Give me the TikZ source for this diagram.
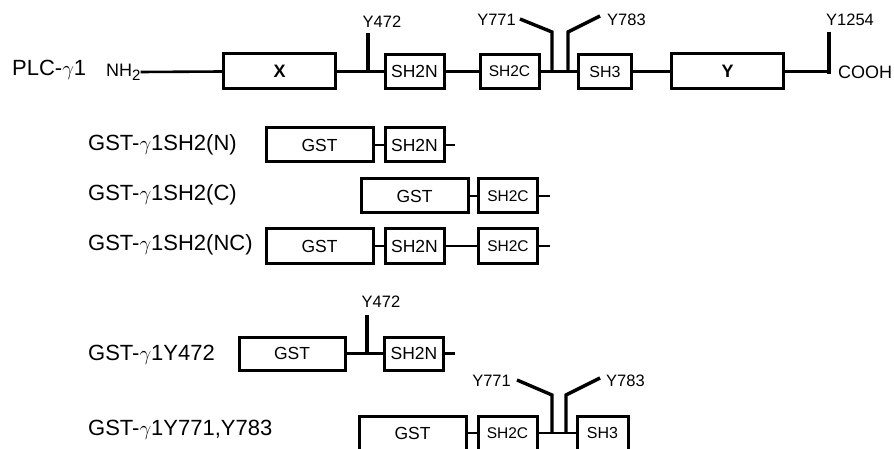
\documentclass[tikz,border=0pt]{standalone}
\usepackage{fontspec}
\setmainfont{Liberation Sans}
\begin{document}
\begin{tikzpicture}[x=1pt,y=-1pt,
  dom/.style={draw, line width=3pt, inner sep=0pt, anchor=center, minimum height=34pt},
  gst/.style={dom, minimum width=107pt, font=\fontsize{17.5}{18}\selectfont},
  sn/.style={dom, minimum width=59pt, font=\fontsize{17.5}{18}\selectfont},
  sc/.style={dom, minimum width=59pt, font=\fontsize{15.5}{16}\selectfont},
  sthree/.style={dom, minimum width=53pt, font=\fontsize{16}{16}\selectfont},
  big/.style={dom, minimum width=112pt, minimum height=35pt, font=\fontsize{18}{18}\selectfont\bfseries},
  lnk/.style={line width=2.6pt},
  tk/.style={line width=3.4pt, line join=miter},
  rowlab/.style={font=\fontsize{22}{24}\selectfont, anchor=west, inner sep=0pt},
  ylab/.style={font=\fontsize{16.5}{18}\selectfont, inner sep=0pt},
  endlab/.style={font=\fontsize{18}{20}\selectfont, inner sep=0pt}]
\useasboundingbox (0,0) rectangle (894,449);

% ---------- Row 1: PLC-gamma1 ----------
\node[rowlab] (plc) at (12,70) {PLC-$\gamma$1};
\node[endlab, anchor=west] (nh2) at (106,72) {NH\raisebox{-4pt}{\fontsize{15}{15}\selectfont 2}};
\node[big] (X) at (279.5,71.5) {X};
\node[sn] (r1n) at (414.5,71.5) {SH2N};
\node[sc] (r1c) at (509.5,71.5) {SH2C};
\node[sthree] (r1s3) at (605,71.5) {SH3};
\node[big] (Y) at (727.5,71.5) {Y};
\node[endlab, anchor=west] (cooh) at (838,72) {COOH};
\coordinate (r1end) at (831,71.5);
\draw[lnk] (nh2.east) -- (X.west);
\draw[lnk] (X.east) -- (r1n.west);
\draw[lnk] (r1n.east) -- (r1c.west);
\draw[lnk] (r1c.east) -- (r1s3.west);
\draw[lnk] (r1s3.east) -- (Y.west);
\draw[lnk] (Y.east) -- (r1end);
% ticks
\coordinate (a472) at (368,71.5); \coordinate (b472) at (368,33);
\draw[tk] (a472) -- (b472);
\node[ylab] (l472) at (382,22) {Y472};
\coordinate (a771) at (552,71.5); \coordinate (b771) at (552,32); \coordinate (c771) at (520,19);
\draw[tk] (a771) -- (b771) -- (c771);
\node[ylab, anchor=east] (l771) at (516,20) {Y771};
\coordinate (a783) at (568,71.5); \coordinate (b783) at (568,32); \coordinate (c783) at (600,16);
\draw[tk] (a783) -- (b783) -- (c783);
\node[ylab, anchor=west] (l783) at (607,20) {Y783};
\coordinate (a1254) at (829,74); \coordinate (b1254) at (829,32);
\draw[tk] (a1254) -- (b1254);
\node[ylab, anchor=west] (l1254) at (826,20) {Y1254};

% ---------- Row 2 ----------
\node[rowlab] (lab2) at (88,145) {GST-$\gamma$1SH2(N)};
\node[gst] (g2) at (319.5,145) {GST};
\node[sn] (n2) at (414.5,145) {SH2N};
\coordinate (e2) at (455,145);
\draw[lnk] (g2.east) -- (n2.west);
\draw[lnk] (n2.east) -- (e2);

% ---------- Row 3 ----------
\node[rowlab] (lab3) at (88,195) {GST-$\gamma$1SH2(C)};
\node[gst] (g3) at (414.5,196) {GST};
\node[sc] (c3) at (508,196) {SH2C};
\coordinate (e3) at (550,196);
\draw[lnk] (g3.east) -- (c3.west);
\draw[lnk] (c3.east) -- (e3);

% ---------- Row 4 ----------
\node[rowlab] (lab4) at (88,245) {GST-$\gamma$1SH2(NC)};
\node[gst] (g4) at (319.5,246) {GST};
\node[sn] (n4) at (414.5,246) {SH2N};
\node[sc] (c4) at (508,246) {SH2C};
\coordinate (e4) at (550,246);
\draw[lnk] (g4.east) -- (n4.west);
\draw[lnk] (n4.east) -- (c4.west);
\draw[lnk] (c4.east) -- (e4);

% ---------- Row 5 ----------
\node[rowlab] (lab5) at (88,355) {GST-$\gamma$1Y472};
\node[gst, minimum width=106pt, minimum height=33pt] (g5) at (292,353.5) {GST};
\node[sn, minimum height=33pt] (n5) at (414,353.5) {SH2N};
\coordinate (e5) at (455,353.5);
\draw[lnk] (g5.east) -- (n5.west);
\draw[lnk] (n5.east) -- (e5);
\coordinate (a5) at (367,353.5); \coordinate (b5) at (367,315);
\draw[tk] (a5) -- (b5);
\node[ylab] (l5) at (381,302) {Y472};

% ---------- Row 6 ----------
\node[rowlab] (lab6) at (88,430) {GST-$\gamma$1Y771,Y783};
\node[gst] (g6) at (412.5,433) {GST};
\node[sc] (c6) at (507.5,433) {SH2C};
\node[sthree, minimum width=51pt] (s6) at (602.5,433) {SH3};
\draw[lnk] (g6.east) -- (c6.west);
\draw[lnk] (c6.east) -- (s6.west);
\coordinate (a6a) at (552,433); \coordinate (b6a) at (552,395); \coordinate (c6a) at (517,380);
\draw[tk] (a6a) -- (b6a) -- (c6a);
\node[ylab, anchor=east] (l6a) at (511,381) {Y771};
\coordinate (a6b) at (566,433); \coordinate (b6b) at (566,395); \coordinate (c6b) at (600,378);
\draw[tk] (a6b) -- (b6b) -- (c6b);
\node[ylab, anchor=west] (l6b) at (606,381) {Y783};
\end{tikzpicture}
\end{document}
